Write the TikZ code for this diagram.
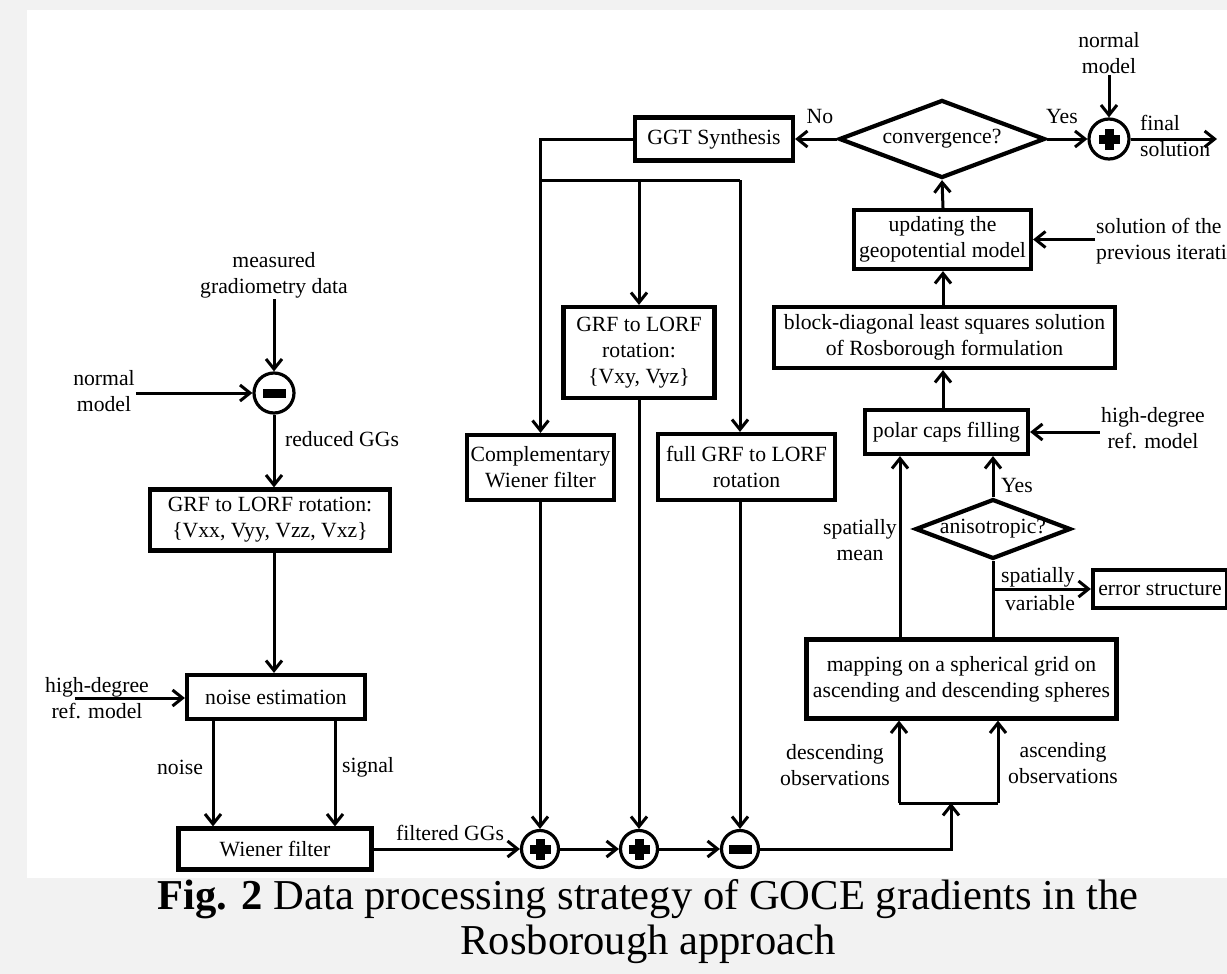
\documentclass[tikz,border=0pt]{standalone}
\usepackage{fontspec}
\setmainfont{Liberation Serif}
\usetikzlibrary{arrows.meta,shapes.geometric,calc}
\newcommand\dgfont{\fontsize{21.7}{26}\selectfont}
\newcommand\capfont{\fontsize{42.6}{45}\selectfont}
\definecolor{pagebg}{RGB}{242,242,242}
\begin{document}
\begin{tikzpicture}[x=1pt,y=-1pt,font=\dgfont,
  box/.style={draw,line width=4.2pt,align=center,inner sep=2pt},
  dia/.style={draw,diamond,line width=4.2pt,align=center,inner sep=0pt},
  circ/.style={draw,circle,line width=3.2pt,minimum size=37pt,inner sep=0pt},
  lbl/.style={align=center,inner sep=1pt},
  conn/.style={line width=3pt},
  arr/.style={conn,-{Straight Barb[length=10pt,width=16pt]}},
  plus/.style={circ,path picture={
    \fill ([xshift=-10.5pt,yshift=-4.5pt]path picture bounding box.center) rectangle ([xshift=10.5pt,yshift=4.5pt]path picture bounding box.center);
    \fill ([xshift=-4.5pt,yshift=-10.5pt]path picture bounding box.center) rectangle ([xshift=4.5pt,yshift=10.5pt]path picture bounding box.center);}},
  minus/.style={circ,path picture={
    \fill ([xshift=-11.5pt,yshift=-4.5pt]path picture bounding box.center) rectangle ([xshift=11.5pt,yshift=4.5pt]path picture bounding box.center);}}]

\useasboundingbox (0,0) rectangle (1227,974);
\fill[pagebg] (0,0) rectangle (1227,974);
\fill[white] (27,10) rectangle (1227,878);

% ---------- left column ----------
\node[lbl] (meas) at (274,275) {measured\\gradiometry data};
\node[minus,minimum size=40pt] (m1) at (274,393) {};
\node[lbl] (nml) at (104,391) {normal\\model};
\node[lbl] (red) at (342,439) {reduced GGs};
\node[box,minimum width=240pt,minimum height=61pt] (grf) at (270,520) {GRF to LORF rotation:\\\{Vxx, Vyy, Vzz, Vxz\}};
\node[box,minimum width=178pt,minimum height=44pt] (noise) at (276,697) {noise estimation};
\node[lbl] (hdl) at (97,698) {high-degree\\ref. model};
\coordinate (hdstart) at (75,698);
\node[box,minimum width=193pt,minimum height=41pt] (wien) at (275,849) {Wiener filter};
\node[lbl] (lnoise) at (180,767) {noise};
\node[lbl] (lsig) at (368,767) {signal};
\node[lbl] (lfilt) at (450,833) {filtered GGs};
\coordinate (cxn) at (213,0);
\coordinate (cxs) at (335,0);

\draw[arr] (meas.south) -- (m1.north);
\draw[arr] (nml.east |- m1) -- (m1.west);
\draw[arr] (m1.south) -- (m1.south |- grf.north);
\draw[arr] (grf.south -| m1) -- (noise.north -| m1);
\draw[arr] (hdstart) -- (hdstart -| noise.west);
\draw[arr] (noise.south -| cxn) -- (wien.north -| cxn);
\draw[arr] (noise.south -| cxs) -- (wien.north -| cxs);

% ---------- bottom sums ----------
\node[plus] (p1) at (540,849) {};
\node[plus] (p2) at (639,849) {};
\node[minus] (m2) at (740,849) {};
\draw[arr] (wien.east) -- (p1.west);
\draw[arr] (p1.east) -- (p2.west);
\draw[arr] (p2.east) -- (m2.west);

% ---------- middle column ----------
\node[box,minimum width=158pt,minimum height=43pt] (ggt) at (714,139) {GGT Synthesis};
\node[box,minimum width=147pt,minimum height=65pt] (comp) at (540.5,467.5) {Complementary\\Wiener filter};
\node[box,minimum width=151pt,minimum height=91pt] (grf2) at (639,352.5) {GRF to LORF\\rotation:\\\{Vxy, Vyz\}};
\node[box,minimum width=177pt,minimum height=66pt] (full) at (746.5,467) {full GRF to LORF\\rotation};
\coordinate (spl) at (540,180);
\coordinate (spr) at (740,180);

\draw[arr] (ggt.west) -| (comp.north);
\draw[conn] (spl) -- (spr);
\draw[arr] (spl -| grf2.north) -- (grf2.north);
\draw[arr] (spr) -- (spr |- full.north);
\draw[arr] (comp.south -| p1) -- (p1.north);
\draw[arr] (grf2.south -| p2) -- (p2.north);
\draw[arr] (full.south -| m2) -- (m2.north);

% ---------- top right ----------
\node[dia,minimum width=206pt,minimum height=78pt,aspect=2.6] (conv) at (942,139) {convergence?};
\node[plus,minimum size=40pt] (pf) at (1109,139) {};
\node[lbl] (nmt) at (1109,53) {normal\\model};
\node[lbl,anchor=west,align=left] (fin) at (1139,136) {final\\solution};
\coordinate (finend) at (1217,139);
\node[lbl] (lyes) at (1062,117) {Yes};
\node[lbl] (lno) at (820,117) {No};

\draw[arr] (conv.west) -- (conv.west -| ggt.east);
\draw[arr] (conv.east) -- (pf.west);
\draw[arr] (nmt.south) -- (pf.north);
\draw[arr] (pf.east) -- (finend);

% ---------- right column ----------
\coordinate (cv) at (943,0);
\node[box,minimum width=177pt,minimum height=59pt] (upd) at (942.5,239.5) {updating the\\geopotential model};
\node[lbl,anchor=west,align=left] (sol) at (1095,241) {solution of the\\previous iteration};
\node[box,minimum width=341pt,minimum height=61pt] (blk) at (944.5,337.5) {block-diagonal least squares solution\\of Rosborough formulation};
\node[box,minimum width=163pt,minimum height=44pt] (polar) at (946.5,432) {polar caps filling};
\node[lbl] (hdr) at (1153,428) {high-degree\\ref. model};
\node[dia,minimum width=155pt,minimum height=58pt,aspect=2.6] (aniso) at (993,529) {anisotropic?};
\node[lbl] (lyes2) at (1017,485) {Yes};
\node[box,minimum width=134pt,minimum height=38pt] (err) at (1160,589) {error structure};
\node[lbl] (lsv1) at (1038,577) {spatially};
\node[lbl] (lsv2) at (1040,603) {variable};
\node[lbl] (lsm) at (860,540) {spatially\\mean};
\node[box,minimum width=310pt,minimum height=79pt] (map) at (961.5,679) {mapping on a spherical grid on\\ascending and descending spheres};
\node[lbl] (ldesc) at (835,765) {descending\\observations};
\node[lbl] (lasc) at (1063,763) {ascending\\observations};
\coordinate (c900) at (900,0);
\coordinate (brl) at (899,803);
\coordinate (brr) at (998,803);
\coordinate (brin) at (951,803);

\draw[arr] (upd.north -| cv) -- (conv.south);
\draw[arr] (blk.north -| cv) -- (upd.south -| cv);
\draw[arr] (polar.north -| cv) -- (blk.south -| cv);
\draw[arr] (sol.west |- upd.east) -- (upd.east);
\draw[arr] (hdr.west |- polar.east) -- (polar.east);
\draw[arr] (map.north -| c900) -- (polar.south -| c900);
\draw[conn] (map.north -| aniso) -- (aniso.south);
\draw[arr] (aniso.north) -- (polar.south -| aniso);
\draw[arr] (aniso |- err.west) -- (err.west);
\draw[conn] (brl) -- (brr);
\draw[arr] (brl) -- (brl |- map.south);
\draw[arr] (brr) -- (brr |- map.south);
\draw[arr] (m2.east) -- (m2.east -| brin) -- (brin);

% ---------- caption ----------
\node[font=\capfont,inner sep=0pt] (cap1) at (648,899) {\textbf{Fig. 2} Data processing strategy of GOCE gradients in the};
\node[font=\capfont,inner sep=0pt] (cap2) at (648,944) {Rosborough approach};
\end{tikzpicture}
\end{document}
